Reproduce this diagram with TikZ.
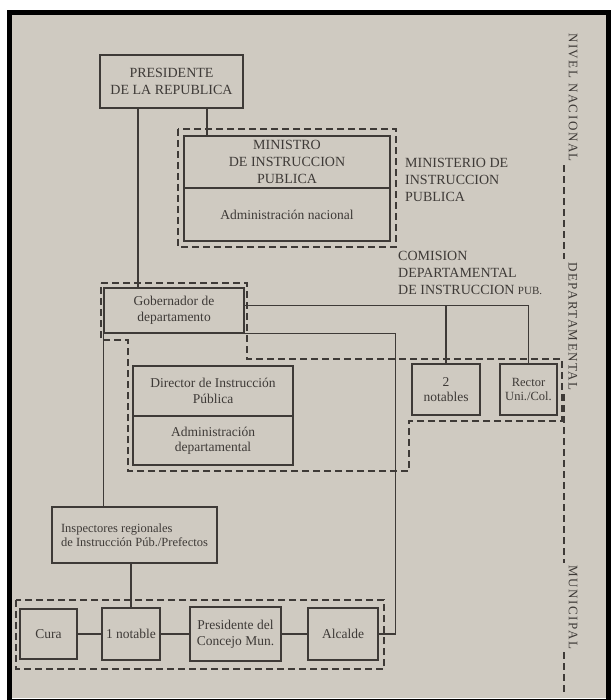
\documentclass[tikz,border=0pt]{standalone}
\usepackage{fontspec}
\setmainfont{Liberation Serif}
\definecolor{paper}{RGB}{207,202,193}
\definecolor{ink}{RGB}{62,58,55}
\tikzset{
	box/.style={draw=ink, line width=1.4pt, text=ink, align=center, inner sep=1pt, font=\fontsize{13.5}{15.5}\selectfont},
	caps/.style={font=\fontsize{14}{17}\selectfont},
	small/.style={font=\fontsize{12.5}{14.5}\selectfont},
	link/.style={draw=ink, line width=1.4pt},
	limit/.style={draw=ink, line width=1.4pt, dash pattern=on 7pt off 4pt},
	level/.style={text=ink, rotate=-90, inner sep=3pt, font=\fontsize{13}{15}\selectfont\addfontfeature{LetterSpace=12}}
}
\begin{document}
\begin{tikzpicture}[x=1pt,y=-1pt]
	\useasboundingbox (0,0) rectangle (610,700);
	\fill[white] (0,0) rectangle (610,700);
	\fill[paper] (12,15) rectangle (606,698);
	\draw[black, line width=5pt] (9.5,12.5) rectangle (608,701);

	\node[box, caps, minimum width=143pt, minimum height=53pt] (pres) at (171.5,81.5) {PRESIDENTE\\DE LA REPUBLICA};
	\node[box, caps, minimum width=206pt, minimum height=52pt] (min) at (287,162) {MINISTRO\\DE INSTRUCCION\\PUBLICA};
	\node[box, minimum width=206pt, minimum height=53pt] (adnac) at (287,214.5) {Administración nacional};
	\node[text=ink, caps, align=left, anchor=west, inner sep=0pt] (minlbl) at (405,180) {MINISTERIO DE\\INSTRUCCION\\PUBLICA};
	\node[text=ink, caps, align=left, anchor=west, inner sep=0pt] (comlbl) at (398,273) {COMISION\\DEPARTAMENTAL\\DE INSTRUCCION {\fontsize{11}{17}\selectfont PUB.}};

	\node[box, minimum width=140pt, minimum height=45pt] (gob) at (174,310.5) {Gobernador de\\departamento};
	\node[box, minimum width=160pt, minimum height=50pt] (dir) at (213,391) {Director de Instrucción\\Pública};
	\node[box, minimum width=160pt, minimum height=49pt] (addep) at (213,440.5) {Administración\\departamental};
	\node[box, minimum width=68pt, minimum height=51pt] (notab) at (446,389.5) {2\\notables};
	\node[box, small, minimum width=57pt, minimum height=51pt] (rect) at (528.5,389.5) {Rector\\Uni./Col.};

	\node[box, small, align=left, minimum width=165pt, minimum height=56pt] (insp) at (134.5,535) {Inspectores regionales\\de Instrucción Púb./Prefectos};
	\node[box, minimum width=57pt, minimum height=50pt] (cura) at (48.5,634) {Cura};
	\node[box, minimum width=58pt, minimum height=52pt] (notun) at (131,634) {1 notable};
	\node[box, minimum width=91pt, minimum height=54pt] (prcon) at (235.5,634) {Presidente del\\Concejo Mun.};
	\node[box, minimum width=70pt, minimum height=52pt] (alc) at (343,634) {Alcalde};

	\node[level] (nac) at (573,97.5) {NIVEL NACIONAL};
	\node[level] (dep) at (573,326.5) {DEPARTAMENTAL};
	\node[level] (mun) at (573,607.5) {MUNICIPAL};
	\coordinate (foot) at (564,692);

	\draw[limit] (178,129) rectangle (396,247);
	\draw[limit] (101,283) -- (247,283) -- (247,359) -- (562,359) -- (562,421) -- (409,421) -- (409,471) -- (128,471) -- (128,340) -- (101,340) -- cycle;
	\draw[limit] (16,600) rectangle (384,669);

	\draw[limit] ([xshift=-9pt]nac.east) -- ([xshift=-9pt]dep.west);
	\draw[limit] ([xshift=-9pt]dep.east) -- ([xshift=-9pt]mun.west);
	\draw[limit] ([xshift=-9pt]mun.east) -- (foot);

	\draw[link] ([xshift=-33.5pt]pres.south) -- ([xshift=-33.5pt]pres.south |- gob.north);
	\draw[link] ([xshift=35.5pt]pres.south) -- ([xshift=35.5pt]pres.south |- min.north);
	\coordinate (gobe) at ([yshift=5pt]gob.east);
	\draw[link] (gobe) -| (rect.north);
	\draw[link] (gobe -| notab.north) -- (notab.north);
	\draw[link] (gob.south east) -| ([xshift=17pt]alc.east) -- (alc.east);
	\draw[link] (gob.south west) -- (gob.south west |- insp.north);
	\draw[link] (insp.south -| notun.north) -- (notun.north);
	\draw[link] (cura.east) -- (notun.west);
	\draw[link] (notun.east) -- (prcon.west);
	\draw[link] (prcon.east) -- (alc.west);
\end{tikzpicture}
\end{document}
